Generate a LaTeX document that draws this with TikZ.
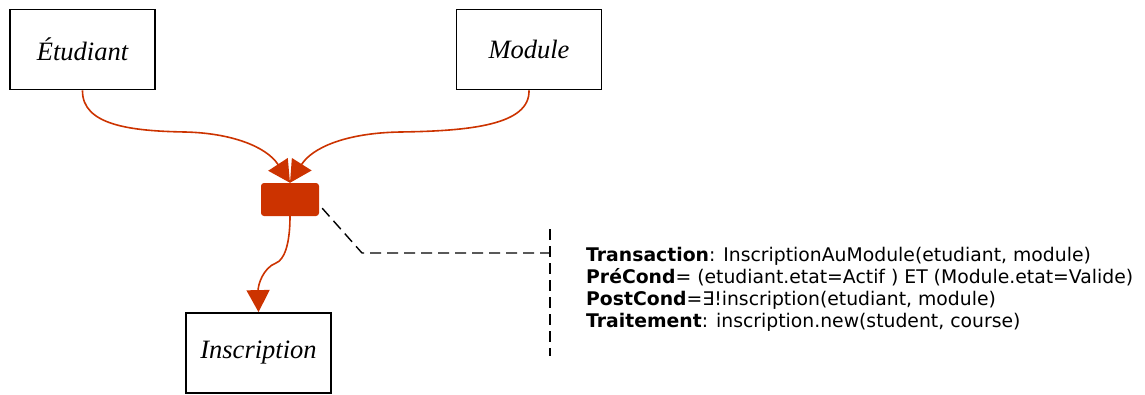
\documentclass[tikz,border=0pt]{standalone}
\usepackage{fontspec}
\setmainfont{Liberation Serif}
\newfontfamily\notefont{DejaVu Sans}
\usepackage{xcolor}
\usetikzlibrary{arrows.meta,positioning,calc}
\definecolor{rust}{HTML}{CC3300}
\definecolor{ink}{HTML}{000000}

\begin{document}
\begin{tikzpicture}[
  x=1pt,y=-1pt,
  entity/.style={draw=ink,line width=1.8pt,minimum width=145pt,minimum height=80pt,inner sep=0pt,
    font=\itshape\fontsize{26.5}{30}\selectfont},
  trans/.style={fill=rust,rounded corners=3pt,minimum width=58pt,minimum height=33pt,inner sep=0pt},
  flow/.style={draw=rust,line width=1.6pt,-{Triangle[length=22pt,width=23pt]}},
  link/.style={draw=ink,line width=1.4pt,dash pattern=on 11pt off 6pt},
  note/.style={font=\notefont\fontsize{18.8}{22}\selectfont,align=left,inner sep=0pt}
]
\useasboundingbox (0,0) rectangle (1145,394);

% entities
\node[entity] (etudiant) at (82.5,49.5) {Étudiant};
\node[entity] (module) at (529,49.5) {Module};
\node[entity] (inscription) at (258.5,353) {Inscription};
\node[trans] (op) at (290,199.5) {};

% flows
\draw[flow] (etudiant.south) .. controls (82,125) and (130,131) .. (185,132)
  .. controls (230,133) and (266,146) .. (op.north);
\draw[flow] (module.south) .. controls (530,125) and (470,131) .. (400,132)
  .. controls (345,133) and (312,148) .. (op.north);
\draw[flow] (op.south) .. controls (290,245) and (284,260) .. (276,263)
  .. controls (263,268) and (258,285) .. (inscription.north);

% note
\coordinate (bend) at (362,253);
\coordinate (join) at (550,253);
\coordinate (bartop) at (550,229);
\coordinate (barbot) at (550,356);
\draw[link] ($(op.south east)+(3,-8)$) -- (bend) -- (join);
\draw[link] (bartop) -- (barbot);
\node[note,anchor=west] (spec) at (586,289.5) {%
  \textbf{Transaction}: InscriptionAuModule(etudiant, module)\\
  \textbf{PréCond}= (etudiant.etat=Actif ) ET (Module.etat=Valide)\\
  \textbf{PostCond}=∃!inscription(etudiant, module)\\
  \textbf{Traitement}: inscription.new(student, course)};
\end{tikzpicture}
\end{document}
